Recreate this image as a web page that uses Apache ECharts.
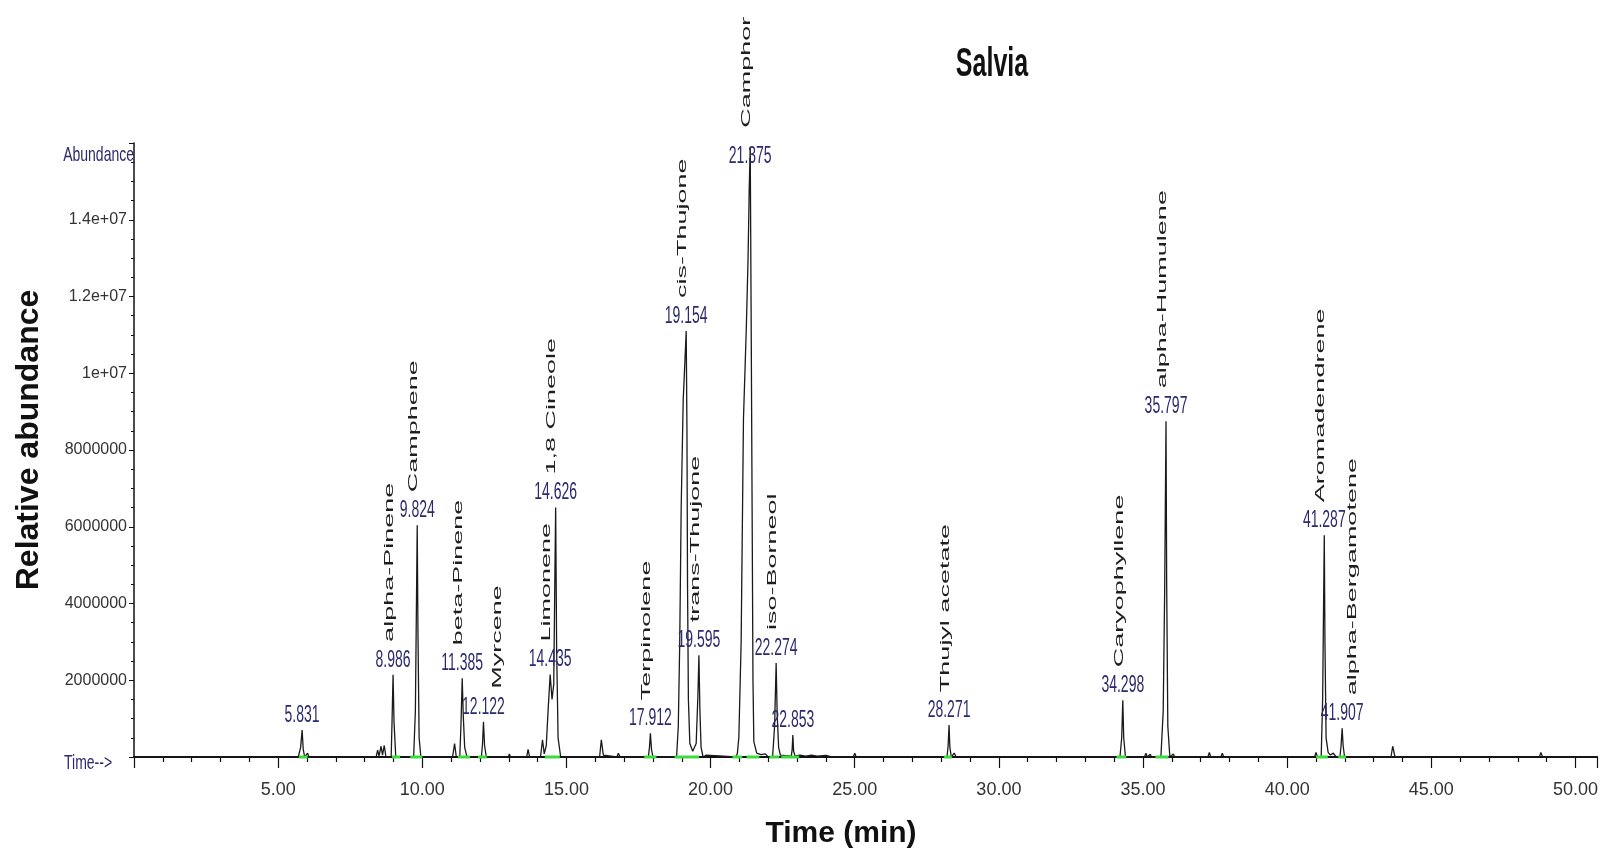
<!DOCTYPE html>
<html>
<head>
<meta charset="utf-8">
<title>Salvia</title>
<script src="https://cdn.jsdelivr.net/npm/echarts@6.0.0/dist/echarts.min.js"></script>
<style>
    html, body { margin: 0; padding: 0; background: #fff; }
    #chart { width: 1601px; height: 848px; }
</style>
</head>
<body>
<div id="chart"></div>
<script>
// chromatogram trace: [retention time (min), abundance]
const trace = [
    [0, 0], [2.85, 0], [2.9, 0.05e6], [2.95, 0],
    [5.7, 0], [5.78, 0.25e6], [5.831, 0.7e6], [5.87, 0.2e6], [5.92, 0], [6.02, 0.1e6], [6.07, 0],
    [8.4, 0], [8.45, 0.18e6], [8.5, 0.03e6], [8.57, 0.28e6], [8.62, 0.05e6], [8.68, 0.3e6], [8.74, 0],
    [8.92, 0], [8.95, 0.9e6], [8.986, 2.14e6], [9.02, 0.9e6], [9.08, 0],
    [9.7, 0], [9.76, 1.2e6], [9.8, 4.2e6], [9.824, 6.04e6], [9.85, 3.2e6], [9.89, 0.5e6], [9.95, 0],
    [11.05, 0], [11.12, 0.35e6], [11.18, 0], [11.3, 0], [11.34, 0.8e6], [11.385, 2.05e6], [11.42, 1.1e6], [11.47, 0.25e6], [11.55, 0],
    [12.05, 0], [12.09, 0.35e6], [12.122, 0.92e6], [12.16, 0.3e6], [12.22, 0],
    [12.98, 0], [13.02, 0.08e6], [13.06, 0],
    [13.62, 0], [13.67, 0.2e6], [13.72, 0],
    [14.1, 0], [14.17, 0.45e6], [14.23, 0.08e6], [14.3, 0.3e6], [14.37, 1.3e6], [14.435, 2.15e6], [14.5, 1.5e6], [14.56, 1.9e6], [14.6, 4.8e6], [14.626, 6.5e6], [14.66, 2.8e6], [14.71, 0.5e6], [14.8, 0],
    [16.15, 0], [16.21, 0.45e6], [16.28, 0.05e6], [16.32, 0],
    [16.75, 0], [16.8, 0.1e6], [16.86, 0],
    [17.84, 0], [17.88, 0.25e6], [17.912, 0.62e6], [17.95, 0.2e6], [18.0, 0],
    [18.55, 0], [18.6, 0.05e6], [18.65, 0],
    [18.82, 0], [18.88, 0.8e6], [18.93, 3.0e6], [18.98, 6.5e6], [19.05, 9.3e6], [19.12, 10.5e6], [19.154, 11.1e6], [19.18, 8.5e6], [19.2, 4.5e6], [19.23, 1.5e6], [19.28, 0.35e6], [19.38, 0.15e6],
    [19.5, 0.35e6], [19.56, 1.6e6], [19.595, 2.65e6], [19.63, 1.2e6], [19.67, 0.25e6], [19.74, 0], [19.85, 0.05e6], [19.9, 0],
    [20.88, 0], [20.93, 0.1e6], [20.98, 0.5e6], [21.06, 3.0e6], [21.14, 8.8e6], [21.24, 11.2e6], [21.3, 13.0e6], [21.34, 14.8e6], [21.375, 15.9e6], [21.41, 11.0e6], [21.44, 6.5e6], [21.47, 2.0e6], [21.5, 0.4e6],
    [21.6, 0.1e6], [21.75, 0.06e6], [21.9, 0.08e6], [22.0, 0],
    [22.15, 0], [22.22, 0.8e6], [22.274, 2.45e6], [22.31, 1.1e6], [22.36, 0.25e6], [22.42, 0.05e6],
    [22.8, 0.02e6], [22.83, 0.2e6], [22.853, 0.57e6], [22.88, 0.15e6], [22.93, 0.03e6], [23.1, 0.05e6], [23.3, 0.02e6], [23.5, 0.05e6], [23.7, 0.02e6], [24.0, 0.04e6], [24.2, 0],
    [24.95, 0], [25.0, 0.1e6], [25.05, 0],
    [25.4, 0], [25.45, 0.05e6], [25.5, 0],
    [27.85, 0], [27.9, 0.05e6], [27.95, 0],
    [28.2, 0], [28.24, 0.3e6], [28.271, 0.83e6], [28.3, 0.25e6], [28.35, 0], [28.45, 0.1e6], [28.52, 0],
    [34.2, 0], [34.26, 0.5e6], [34.298, 1.48e6], [34.33, 0.5e6], [34.39, 0],
    [35.05, 0], [35.1, 0.1e6], [35.15, 0], [35.25, 0.07e6], [35.3, 0],
    [35.62, 0], [35.7, 1.2e6], [35.75, 4.3e6], [35.797, 8.75e6], [35.82, 4.5e6], [35.86, 0.8e6], [35.93, 0], [36.05, 0.08e6], [36.1, 0],
    [37.25, 0], [37.3, 0.12e6], [37.35, 0], [37.7, 0], [37.75, 0.1e6], [37.8, 0],
    [40.95, 0], [41.0, 0.12e6], [41.05, 0],
    [41.18, 0], [41.23, 1.5e6], [41.26, 3.8e6], [41.287, 5.78e6], [41.31, 3.0e6], [41.35, 0.5e6], [41.42, 0.12e6], [41.5, 0.05e6], [41.6, 0.1e6], [41.7, 0],
    [41.83, 0], [41.87, 0.3e6], [41.907, 0.75e6], [41.94, 0.3e6], [41.99, 0],
    [42.45, 0], [42.5, 0.05e6], [42.55, 0],
    [43.6, 0], [43.66, 0.28e6], [43.74, 0],
    [48.75, 0], [48.8, 0.12e6], [48.86, 0],
    [50.75, 0]
];

// labelled peaks
const peakTimes = [5.831, 8.986, 9.824, 11.385, 12.122, 14.435, 14.626, 17.912, 19.154, 19.595,
    21.375, 22.274, 22.853, 28.271, 34.298, 35.797, 41.287, 41.907];
const compoundNames = ['', 'alpha-Pinene', 'Camphene', 'beta-Pinene', 'Myrcene', 'Limonene', '1,8 Cineole',
    'Terpinolene', 'cis-Thujone', 'trans-Thujone', 'Camphor', 'iso-Borneol', '', 'Thujyl acetate',
    'Caryophyllene', 'alpha-Humulene', 'Aromadendrene', 'alpha-Bergamotene'];

// integration marks on the baseline (start, end)
const integrationStart = [5.72, 8.95, 9.58, 11.24, 11.93, 14.25, 17.7, 18.75, 20.76, 21.25, 22.04, 22.45, 28.09, 34.08, 35.43, 41.0, 41.77];
const integrationEnd = [6.02, 9.23, 10.0, 11.66, 12.24, 14.77, 18.12, 19.6, 21.1, 21.69, 22.38, 23.07, 28.37, 34.42, 35.88, 41.41, 42.04];

const X_MAX = 50.75;
const Y_MAX = 16e6;
const FONT = "'Liberation Sans', Arial, sans-serif";
const NAVY = '#2a2a6e';

const peakHeights = peakTimes.map(function (t) {
    const p = trace.find(function (d) { return d[0] === t; });
    return p ? p[1] : 0;
});

// name labels that sit beside their peak instead of straight above it
const nameNudge = {'Myrcene': 14, 'alpha-Bergamotene': 10};

const peakItems = peakTimes.map(function (t, i) {
    return [t, peakHeights[i]];
});

const nameItems = [];
peakTimes.forEach(function (t, i) {
    if (compoundNames[i]) {
        nameItems.push({value: [t, peakHeights[i]], name: compoundNames[i]});
    }
});

const integrationMarks = integrationStart.map(function (s, i) {
    return [s, integrationEnd[i]];
});

// peak at the top of the frame gets its labels pushed down onto the line
function atTop(v) {
    return v > Y_MAX * 0.95;
}

const chart = echarts.init(document.getElementById('chart'));

const option = {
    animation: false,
    backgroundColor: '#fff',
    grid: {
        left: 134,
        right: 0,
        top: 143,
        bottom: 91,
        containLabel: false
    },
    xAxis: {
        type: 'value',
        min: 0,
        max: X_MAX,
        interval: 5,
        axisLine: {lineStyle: {color: '#111', width: 2}},
        axisTick: {length: 11, lineStyle: {color: '#111', width: 1.2}},
        minorTick: {show: true, splitNumber: 5, length: 5, lineStyle: {color: '#111', width: 1.2}},
        splitLine: {show: false},
        axisLabel: {
            showMaxLabel: false,
            margin: 24,
            color: '#333',
            fontFamily: FONT,
            fontSize: 18,
            formatter: function (v) {
                return v === 0 || v % 5 !== 0 ? '' : v.toFixed(2);
            }
        }
    },
    yAxis: {
        type: 'value',
        min: 0,
        max: Y_MAX,
        interval: 2e6,
        axisLine: {show: true, lineStyle: {color: '#111', width: 1.5}},
        axisTick: {show: true, length: 5, lineStyle: {color: '#111'}},
        minorTick: {show: true, splitNumber: 4, length: 3, lineStyle: {color: '#111'}},
        splitLine: {show: false},
        axisLabel: {
            margin: 7,
            color: '#333',
            fontFamily: FONT,
            fontSize: 16,
            formatter: function (v) {
                if (v === 0 || v >= Y_MAX) return '';
                if (v >= 1e7) return v.toExponential().replace('e+7', 'e+07');
                return String(v);
            }
        }
    },
    graphic: [
        {
            type: 'text', x: 992, y: 65, scaleY: 1.65,
            style: {text: 'Salvia', align: 'center', verticalAlign: 'middle', fill: '#111', font: 'bold 25px ' + FONT}
        },
        {
            type: 'text', x: 29, y: 440, rotation: Math.PI / 2,
            style: {text: 'Relative abundance', align: 'center', verticalAlign: 'middle', fill: '#111', font: 'bold 32px ' + FONT}
        },
        {
            type: 'text', x: 841, y: 834,
            style: {text: 'Time (min)', align: 'center', verticalAlign: 'middle', fill: '#111', font: 'bold 30px ' + FONT}
        },
        {
            type: 'text', x: 134, y: 155, scaleY: 1.5,
            style: {text: 'Abundance', align: 'right', verticalAlign: 'middle', fill: NAVY, font: '14px ' + FONT}
        },
        {
            type: 'text', x: 64, y: 763, scaleY: 1.5,
            style: {text: 'Time-->', align: 'left', verticalAlign: 'middle', fill: NAVY, font: '14px ' + FONT}
        }
    ],
    series: [
        {
            name: 'TIC',
            type: 'line',
            data: trace,
            symbol: 'none',
            lineStyle: {color: '#1a1a1a', width: 1.3},
            z: 3
        },
        {
            name: 'integration',
            type: 'custom',
            data: integrationMarks,
            encode: {x: [0, 1]},
            z: 4,
            renderItem: function (params, api) {
                const start = api.coord([api.value(0), 0]);
                const end = api.coord([api.value(1), 0]);
                return {
                    type: 'rect',
                    shape: {x: start[0], y: start[1] - 1.5, width: end[0] - start[0], height: 3},
                    style: {fill: '#3bdc3b'}
                };
            }
        },
        {
            // retention time above each peak
            name: 'retention',
            type: 'custom',
            data: peakItems,
            silent: true,
            z: 5,
            renderItem: function (params, api) {
                const p = api.coord([api.value(0), api.value(1)]);
                return {
                    type: 'text',
                    x: p[0],
                    y: atTop(api.value(1)) ? p[1] + 21 : p[1] - 3,
                    scaleY: 1.65,
                    style: {
                        text: api.value(0).toFixed(3),
                        align: 'center',
                        verticalAlign: 'bottom',
                        fill: NAVY,
                        font: '14px ' + FONT
                    }
                };
            }
        },
        {
            // compound names, written upwards
            name: 'compounds',
            type: 'custom',
            data: nameItems,
            silent: true,
            z: 5,
            renderItem: function (params, api) {
                const p = api.coord([api.value(0), api.value(1)]);
                const name = nameItems[params.dataIndex].name;
                const dx = nameNudge[name] !== undefined ? nameNudge[name] : -4;
                return {
                    type: 'text',
                    x: p[0] + dx,
                    y: atTop(api.value(1)) ? p[1] - 19 : p[1] - 33,
                    rotation: Math.PI / 2,
                    scaleX: 2.0,
                    style: {
                        text: name,
                        align: 'left',
                        verticalAlign: 'middle',
                        fill: '#1e1e1e',
                        font: '13.5px ' + FONT
                    }
                };
            }
        }
    ]
};

chart.setOption(option);
</script>
</body>
</html>
